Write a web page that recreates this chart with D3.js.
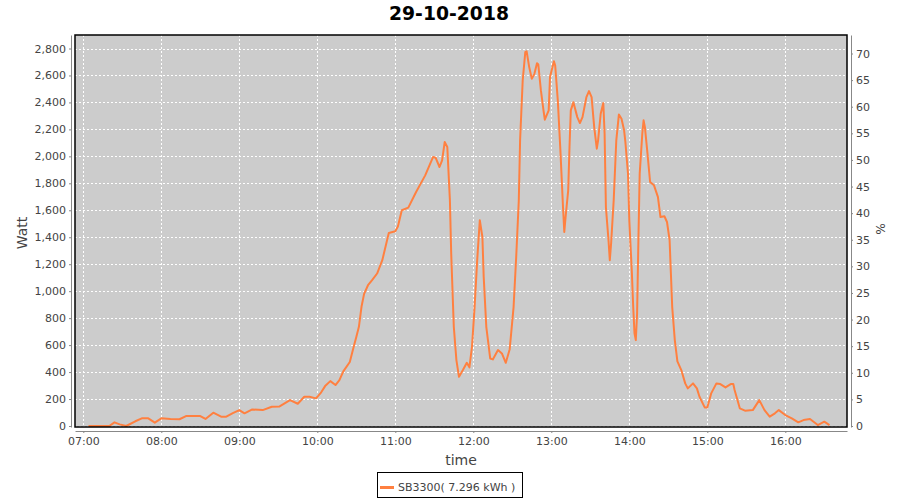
<!DOCTYPE html>
<html>
<head>
<meta charset="utf-8">
<script src="https://cdn.jsdelivr.net/npm/d3@7"></script>
<style>
  html, body { margin: 0; padding: 0; background: #fff; }
  svg { display: block; }
  text { font-family: "DejaVu Sans", sans-serif; }
</style>
</head>
<body>
<svg id="chart" width="900" height="500"></svg>
<script>
// ---- data ----
const chartTitle = "29-10-2018";
const seriesName = "SB3300( 7.296 kWh )";
const times = [
  "07:04","07:20","07:24","07:28","07:33","07:40","07:45","07:50","07:55","08:00",
  "08:07","08:14","08:19","08:30","08:34","08:40","08:46","08:50","08:55","09:00",
  "09:04","09:10","09:18","09:25","09:31","09:39","09:45","09:50","09:54","09:59",
  "10:03","10:06","10:10","10:14","10:17","10:20","10:25","10:28","10:30","10:32",
  "10:34","10:36","10:39","10:42","10:46","10:50","10:55","11:00","11:02","11:05",
  "11:10","11:16","11:23","11:29","11:31","11:34","11:36","11:38","11:40","11:42",
  "11:43","11:45","11:47","11:49","11:52","11:55","11:57","11:59","12:01","12:03",
  "12:05","12:07","12:08","12:10","12:13","12:15","12:19","12:22","12:25","12:28",
  "12:31","12:33","12:35","12:36","12:38","12:40","12:41","12:43","12:45","12:47",
  "12:49","12:50","12:52","12:54","12:55","12:58","12:59","13:02","13:03","13:05",
  "13:07","13:09","13:10","13:11","13:13","13:14","13:15","13:17","13:20","13:22",
  "13:24","13:27","13:29","13:31","13:33","13:35","13:36","13:38","13:40","13:41",
  "13:42","13:44","13:45","13:46","13:48","13:50","13:52","13:54","13:56","13:57",
  "13:59","14:00","14:02","14:03","14:04","14:05","14:06","14:07","14:08","14:10",
  "14:11","14:12","14:14","14:16","14:19","14:22","14:24","14:27","14:29","14:31",
  "14:32","14:33","14:35","14:37","14:40","14:43","14:45","14:49","14:52","14:54",
  "14:58","15:00","15:03","15:07","15:10","15:14","15:18","15:20","15:21","15:25",
  "15:29","15:35","15:40","15:44","15:48","15:52","15:55","16:00","16:05","16:10",
  "16:14","16:19","16:25","16:30","16:34"
];
const watts = [
  0,0,27,12,0,35,57,57,25,57,
  52,50,74,74,52,99,69,69,95,118,
  94,123,118,143,145,192,165,217,217,205,
  250,296,333,304,340,405,475,588,660,736,
  884,980,1044,1080,1131,1230,1432,1444,1480,1600,
  1620,1736,1859,1995,1990,1921,1970,2106,2069,1674,
  1279,736,489,365,415,469,435,588,884,1230,
  1526,1402,1106,736,501,494,563,538,469,570,
  884,1254,1674,2119,2563,2773,2780,2662,2575,2612,
  2691,2681,2489,2341,2272,2341,2588,2706,2674,2415,
  2044,1624,1439,1550,1748,2069,2341,2402,2291,2247,
  2291,2439,2484,2439,2217,2057,2119,2316,2395,2168,
  1624,1378,1230,1353,1674,2119,2311,2279,2193,2106,
  1872,1526,1131,884,687,637,835,1378,1872,2168,
  2267,2217,2020,1810,1785,1699,1550,1556,1513,1378,
  1131,884,637,480,415,316,279,316,279,217,
  138,138,242,316,311,286,311,311,267,131,
  114,118,192,118,69,94,118,81,57,27,
  44,52,7,32,7
];
const wattTicks = [0,200,400,600,800,1000,1200,1400,1600,1800,2000,2200,2400,2600,2800];
const percentTicks = [0,5,10,15,20,25,30,35,40,45,50,55,60,65,70];
const hourTicks = ["07:00","08:00","09:00","10:00","11:00","12:00","13:00","14:00","15:00","16:00"];

// ---- layout ----
const svg = d3.select("#chart");
const plot = {left: 75, top: 35, right: 847, bottom: 427};
const parseT = d3.timeParse("%Y-%m-%d %H:%M");
const day = "2018-10-29 ";
const data = times.map((t, i) => ({t: parseT(day + t), w: watts[i]}));

const x = d3.scaleTime()
  .domain([parseT(day + "06:53"), parseT(day + "16:47")])
  .range([plot.left, plot.right]);
// adjust domain so that 07:00 lands at 83.3 and 78px/hour
const msH = 3600000;
const t7 = parseT(day + "07:00").getTime();
x.domain([new Date(t7 - (83.3 - plot.left) / 78 * msH), new Date(t7 + (plot.right - 83.3) / 78 * msH)]);

const yW = d3.scaleLinear().domain([0, 2800]).range([426, 48.5]);
yW.domain([yW.invert(plot.bottom), yW.invert(plot.top)]).range([plot.bottom, plot.top]);
const yP = d3.scaleLinear().domain([0, 70]).range([426, 53.5]);
yP.domain([yP.invert(plot.bottom), yP.invert(plot.top)]).range([plot.bottom, plot.top]);

// title
svg.append("text").attr("x", 449).attr("y", 19.5).attr("text-anchor", "middle")
  .attr("font-size", 20).attr("font-weight", "bold").attr("fill", "#000")
  .attr("textLength", 120).attr("lengthAdjust", "spacingAndGlyphs")
  .text(chartTitle);

// plot background
svg.append("rect").attr("x", plot.left).attr("y", plot.top)
  .attr("width", plot.right - plot.left).attr("height", plot.bottom - plot.top)
  .attr("fill", "#cccccc");

// gridlines
const grid = svg.append("g").attr("stroke", "#fff").attr("stroke-width", 1).attr("stroke-dasharray", "2,2");
const hourDates = hourTicks.map(h => parseT(day + h));
grid.selectAll("line.v").data(hourDates).join("line")
  .attr("x1", d => Math.round(x(d)) + 0.5).attr("x2", d => Math.round(x(d)) + 0.5)
  .attr("y1", plot.top).attr("y2", plot.bottom);
grid.selectAll("line.h").data(wattTicks).join("line")
  .attr("x1", plot.left).attr("x2", plot.right)
  .attr("y1", d => Math.round(yW(d)) + 0.5).attr("y2", d => Math.round(yW(d)) + 0.5);

// clip
svg.append("clipPath").attr("id", "clip").append("rect")
  .attr("x", plot.left).attr("y", plot.top)
  .attr("width", plot.right - plot.left).attr("height", plot.bottom - plot.top);

// series line
const line = d3.line().x(d => x(d.t)).y(d => yW(d.w));
svg.append("path").datum(data).attr("clip-path", "url(#clip)")
  .attr("fill", "none").attr("stroke", "rgb(255,128,64)").attr("stroke-width", 2)
  .attr("stroke-linejoin", "round").attr("d", line);

// frame
svg.append("rect").attr("x", plot.left).attr("y", plot.top)
  .attr("width", plot.right - plot.left).attr("height", plot.bottom - plot.top)
  .attr("fill", "none").attr("stroke", "#000").attr("stroke-width", 1.5);

function styleAxis(g) {
  g.select(".domain").attr("stroke", "#888");
  g.selectAll(".tick line").attr("stroke", "#888");
  g.selectAll(".tick text").attr("fill", "#444").attr("font-size", 11)
    .attr("font-family", "DejaVu Sans, sans-serif");
}

// left axis
svg.append("g").attr("transform", "translate(71,0)")
  .call(d3.axisLeft(yW).tickValues(wattTicks).tickFormat(d3.format(",")).tickSize(2).tickSizeOuter(0).tickPadding(3))
  .call(styleAxis);
// right axis
svg.append("g").attr("transform", "translate(851,0)")
  .call(d3.axisRight(yP).tickValues(percentTicks).tickFormat(d3.format("d")).tickSize(2).tickSizeOuter(0).tickPadding(3))
  .call(styleAxis);
// bottom axis
svg.append("g").attr("transform", "translate(0,431)")
  .call(d3.axisBottom(x).tickValues(hourDates).tickFormat(d3.timeFormat("%H:%M")).tickSize(2).tickSizeOuter(0).tickPadding(4))
  .call(styleAxis);

// axis labels
svg.append("text").attr("transform", "translate(27,233) rotate(-90)").attr("text-anchor", "middle")
  .attr("font-size", 14).attr("fill", "#444").text("Watt");
svg.append("text").attr("x", 461).attr("y", 465).attr("text-anchor", "middle")
  .attr("font-size", 14).attr("fill", "#444").text("time");
svg.append("text").attr("transform", "translate(876,229) rotate(90)").attr("text-anchor", "middle")
  .attr("font-size", 12).attr("fill", "#444").text("%");

// legend
const lg = svg.append("g");
lg.append("rect").attr("x", 377.5).attr("y", 472.5).attr("width", 145).attr("height", 25)
  .attr("fill", "#fff").attr("stroke", "#000").attr("stroke-width", 1);
lg.append("line").attr("x1", 380).attr("x2", 394).attr("y1", 487.5).attr("y2", 487.5)
  .attr("stroke", "rgb(255,128,64)").attr("stroke-width", 3);
lg.append("text").attr("x", 398).attr("y", 491).attr("font-size", 11).attr("fill", "#444")
  .text(seriesName);
</script>
</body>
</html>
